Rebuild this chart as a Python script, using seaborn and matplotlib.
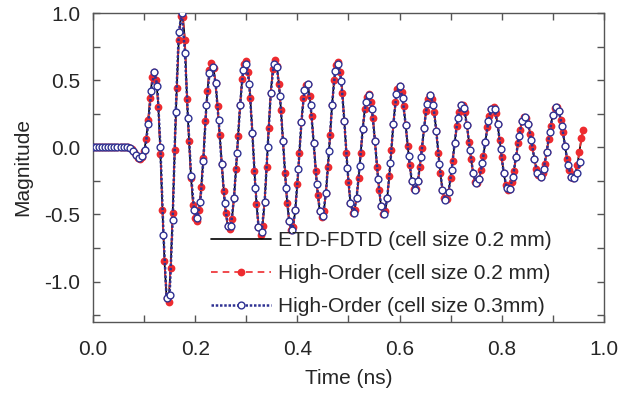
import numpy as np
import matplotlib
matplotlib.use('Agg')
import matplotlib.pyplot as plt
import seaborn as sns
from matplotlib.ticker import MultipleLocator, FormatStrFormatter

# time step of each run (ns)
dt_fine = 0.004    # 0.2 mm cells
dt_coarse = 0.006  # 0.3 mm cells

# magnitude, one value per time step (rows of 10 steps)
ho_02mm = [
    0, 0, 0, 0, 0, 0, 0, 0, 0, 0,
    0, 0, 0, 0, 0, 0, 0, 0, -0.002, -0.015,
    -0.037, -0.060, -0.078, -0.085, -0.07, -0.03, 0.06, 0.20, 0.37, 0.52,
    0.56, 0.50, 0.30, -0.05, -0.47, -0.85, -1.12, -1.15, -0.90, -0.49,
    -0.02, 0.44, 0.80, 0.98, 0.97, 0.80, 0.36, 0.05, -0.23, -0.43,
    -0.53, -0.55, -0.466, -0.292, -0.08, 0.197, 0.422, 0.576, 0.63, 0.590,
    0.476, 0.304, 0.093, -0.128, -0.322, -0.492, -0.588, -0.607, -0.536, -0.379,
    -0.164, 0.082, 0.316, 0.506, 0.622, 0.646, 0.558, 0.365, 0.105, -0.173,
    -0.421, -0.590, -0.65, -0.586, -0.406, -0.144, 0.144, 0.406, 0.586, 0.65,
    0.604, 0.475, 0.279, 0.044, -0.193, -0.412, -0.549, -0.617, -0.591, -0.469,
    -0.273, -0.040, 0.187, 0.369, 0.467, 0.469, 0.385, 0.23, 0.032, -0.175,
    -0.355, -0.477, -0.52, -0.474, -0.340, -0.143, 0.089, 0.315, 0.501, 0.613,
    0.637, 0.564, 0.407, 0.193, -0.043, -0.257, -0.414, -0.487, -0.468, -0.377,
    -0.227, -0.045, 0.137, 0.287, 0.378, 0.397, 0.340, 0.215, 0.044, -0.144,
    -0.315, -0.440, -0.497, -0.476, -0.378, -0.216, -0.02, 0.176, 0.338, 0.436,
    0.458, 0.412, 0.309, 0.168, 0.012, -0.135, -0.249, -0.312, -0.312, -0.252,
    -0.143, -0.002, 0.145, 0.273, 0.359, 0.39, 0.356, 0.261, 0.120, -0.041,
    -0.195, -0.316, -0.381, -0.383, -0.330, -0.232, -0.105, 0.035, 0.162, 0.260,
    0.313, 0.313, 0.260, 0.163, 0.041, -0.085, -0.189, -0.255, -0.269, -0.236,
    -0.166, -0.068, 0.043, 0.149, 0.235, 0.287, 0.298, 0.258, 0.172, 0.054,
    -0.074, -0.192, -0.278, -0.318, -0.308, -0.258, -0.174, -0.072, 0.035, 0.128,
    0.198, 0.229, 0.219, 0.173, 0.097, 0.005, -0.087, -0.163, -0.209, -0.219,
    -0.189, -0.125, -0.036, 0.065, 0.162, 0.241, 0.289, 0.299, 0.269, 0.203,
    0.112, 0.009, -0.090, -0.170, -0.218, -0.229, -0.197, -0.129, -0.036, 0.066,
    0.13,
]
# the ETD-FDTD curve lies on top of the 0.2 mm high-order run
etd_fdtd = list(ho_02mm)

ho_03mm = [
    0, 0, 0, 0, 0, 0, 0, 0, 0, 0,
    0, 0, -0.002, -0.025, -0.06, -0.083, -0.065, -0.02, 0.17, 0.42,
    0.56, 0.46, 0.0, -0.65, -1.12, -1.10, -0.54, 0.26, 0.86, 1.0,
    0.705, 0.22, -0.21, -0.465, -0.53, -0.41, -0.10, 0.316, 0.55, 0.60,
    0.48, 0.20, -0.128, -0.418, -0.588, -0.583, -0.379, -0.042, 0.316, 0.576,
    0.62, 0.472, 0.105, -0.304, -0.590, -0.634, -0.406, 0.0, 0.406, 0.62,
    0.60, 0.383, 0.044, -0.303, -0.549, -0.617, -0.469, -0.159, 0.187, 0.429,
    0.469, 0.315, 0.032, -0.27, -0.477, -0.508, -0.340, -0.027, 0.315, 0.568,
    0.62, 0.496, 0.193, -0.156, -0.414, -0.487, -0.377, -0.138, 0.137, 0.340,
    0.39, 0.286, 0.044, -0.234, -0.440, -0.497, -0.378, -0.120, 0.176, 0.396,
    0.458, 0.366, 0.168, -0.063, -0.249, -0.32, -0.252, -0.075, 0.145, 0.322,
    0.39, 0.316, 0.120, -0.121, -0.316, -0.39, -0.330, -0.171, 0.035, 0.216,
    0.313, 0.293, 0.163, -0.023, -0.189, -0.268, -0.236, -0.119, 0.043, 0.195,
    0.287, 0.285, 0.172, -0.01, -0.192, -0.305, -0.308, -0.219, -0.072, 0.084,
    0.198, 0.229, 0.173, 0.052, -0.087, -0.190, -0.219, -0.162, -0.036, 0.115,
    0.241, 0.299, 0.269, 0.160, 0.009, -0.132, -0.218, -0.225, -0.19, -0.11,
]

labels = ['ETD-FDTD (cell size 0.2 mm)',
          'High-Order (cell size 0.2 mm)',
          'High-Order (cell size 0.3mm)']

t_fine = np.arange(len(ho_02mm)) * dt_fine
t_coarse = np.arange(len(ho_03mm)) * dt_coarse

RED = '#ee2b2f'
BLUE = '#2e3192'

sns.set_theme(style='ticks')
plt.rcParams['font.family'] = ['Liberation Sans', 'DejaVu Sans']
plt.rcParams['axes.unicode_minus'] = False

fig, ax = plt.subplots(figsize=(6.39, 3.94), dpi=100)
fig.subplots_adjust(left=0.1455, right=0.945, bottom=0.183, top=0.967)

# black sits underneath, the blue run is drawn on top of everything
sns.lineplot(x=t_fine, y=etd_fdtd, ax=ax, color='black', linewidth=1.2,
             label=labels[0], zorder=1.5)
sns.lineplot(x=t_fine, y=ho_02mm, ax=ax, color=RED, linestyle=(0, (4, 3)),
             linewidth=1.2, marker='o', markersize=5.6, markeredgewidth=0,
             markeredgecolor=RED, label=labels[1], zorder=2)
sns.lineplot(x=t_coarse, y=ho_03mm, ax=ax, color=BLUE, linestyle=(0, (1, 0.7)),
             linewidth=1.8, marker='o', markersize=4.9, markerfacecolor='white',
             markeredgecolor=BLUE, markeredgewidth=1.0, label=labels[2], zorder=4)

ax.set_xlim(0, 1.0)
ax.set_ylim(-1.3, 1.0)
ax.xaxis.set_major_locator(MultipleLocator(0.2))
ax.xaxis.set_minor_locator(MultipleLocator(0.1))
ax.yaxis.set_major_locator(MultipleLocator(0.5))
ax.yaxis.set_minor_locator(MultipleLocator(0.25))
ax.xaxis.set_major_formatter(FormatStrFormatter('%.1f'))
ax.yaxis.set_major_formatter(FormatStrFormatter('%.1f'))

for sp in ax.spines.values():
    sp.set_color('#555555')
    sp.set_linewidth(1.0)
ax.tick_params(which='both', direction='in', top=True, right=True,
               color='#555555', width=1.0, length=5, labelsize=15)
ax.tick_params(axis='x', which='both', pad=13)
ax.tick_params(axis='y', which='both', pad=9)

ax.set_xlabel('Time (ns)', fontsize=15, labelpad=7)
ax.set_ylabel('Magnitude', fontsize=15, labelpad=9)

handles, labs = ax.get_legend_handles_labels()
order = [labs.index(l) for l in labels]
ax.legend([handles[i] for i in order], labels, loc='upper left',
          bbox_to_anchor=(0.231, 0.294), frameon=False, fontsize=15,
          handlelength=2.9, handletextpad=0.3, labelspacing=0.68,
          borderpad=0, borderaxespad=0)

fig.savefig('out.png', dpi=100)
